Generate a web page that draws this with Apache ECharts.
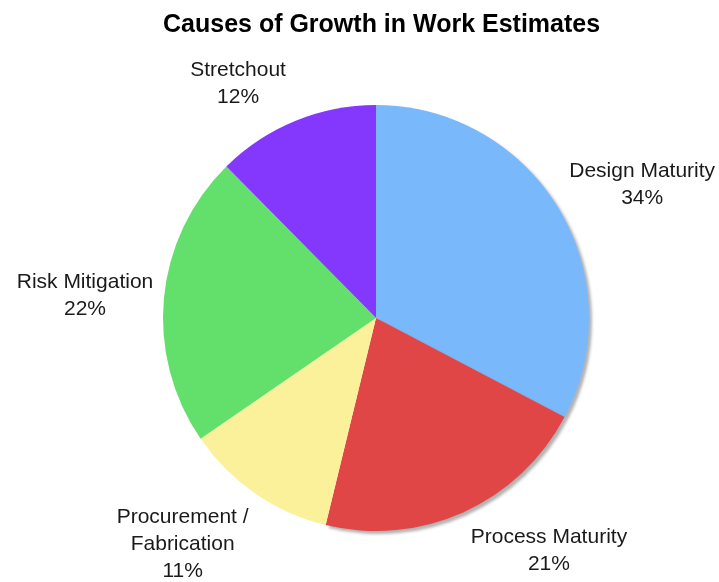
<!DOCTYPE html>
<html>
<head>
<meta charset="utf-8">
<script src="https://cdn.jsdelivr.net/npm/echarts@6/dist/echarts.min.js"></script>
<style>html,body{margin:0;padding:0;background:#fff;}#c{width:719px;height:582px;}</style>
</head>
<body>
<div id="c"></div>
<script>
// Categories and the percentages printed on the chart
var categories = ['Design Maturity', 'Process Maturity', 'Procurement /\nFabrication', 'Risk Mitigation', 'Stretchout'];
var labelPercents = [34, 21, 11, 22, 12];
// Slice sizes as drawn in the picture (measured from the sector boundaries)
var values = [32.7, 21.1, 11.6, 22.2, 12.4];
var colors = ['#7ab8fc', '#e04646', '#fbf19b', '#63e06b', '#8438fd'];
// label offsets from the point just outside each slice's mid-angle
var labelShift = [[77, -19], [82, 31], [-68, 44], [-71, -1], [-54, -30]];

var cx = 376, cy = 318, R = 213;
var total = values.reduce(function (a, b) { return a + b; }, 0);
var mids = [];
var acc = 0;
for (var i = 0; i < values.length; i++) {
  mids.push((acc + values[i] / 2) / total * 2 * Math.PI);
  acc += values[i];
}

var chart = echarts.init(document.getElementById('c'), null, { renderer: 'canvas' });
chart.setOption({
  animation: false,
  title: {
    text: 'Causes of Growth in Work Estimates',
    left: 158,
    top: 8,
    textStyle: { fontFamily: 'Liberation Sans, Arial, sans-serif', fontWeight: 'bold', fontSize: 25, color: '#000' }
  },
  series: [{
    type: 'pie',
    center: [cx, cy],
    radius: R,
    startAngle: 90,
    clockwise: true,
    avoidLabelOverlap: false,
    data: categories.map(function (n, i) {
      var item = { name: n, value: values[i], itemStyle: { color: colors[i] } };
      if (i < 2) {
        item.itemStyle.shadowColor = 'rgba(0,0,0,0.3)';
        item.itemStyle.shadowBlur = 3;
        item.itemStyle.shadowOffsetX = 3;
        item.itemStyle.shadowOffsetY = 3;
      }
      return item;
    }),
    label: {
      show: true,
      position: 'outside',
      formatter: function (p) { return p.name + '\n' + labelPercents[p.dataIndex] + '%'; },
      fontFamily: 'Liberation Sans, Arial, sans-serif',
      fontSize: 21,
      lineHeight: 27,
      color: '#1a1a1a',
      align: 'center'
    },
    labelLine: { show: false },
    labelLayout: function (p) {
      var a = mids[p.dataIndex];
      var d = R + 8;
      var s = labelShift[p.dataIndex];
      return {
        x: cx + d * Math.sin(a) + s[0],
        y: cy - d * Math.cos(a) + s[1],
        align: 'center',
        verticalAlign: 'middle'
      };
    },
    emphasis: { disabled: true }
  }]
});
</script>
</body>
</html>
